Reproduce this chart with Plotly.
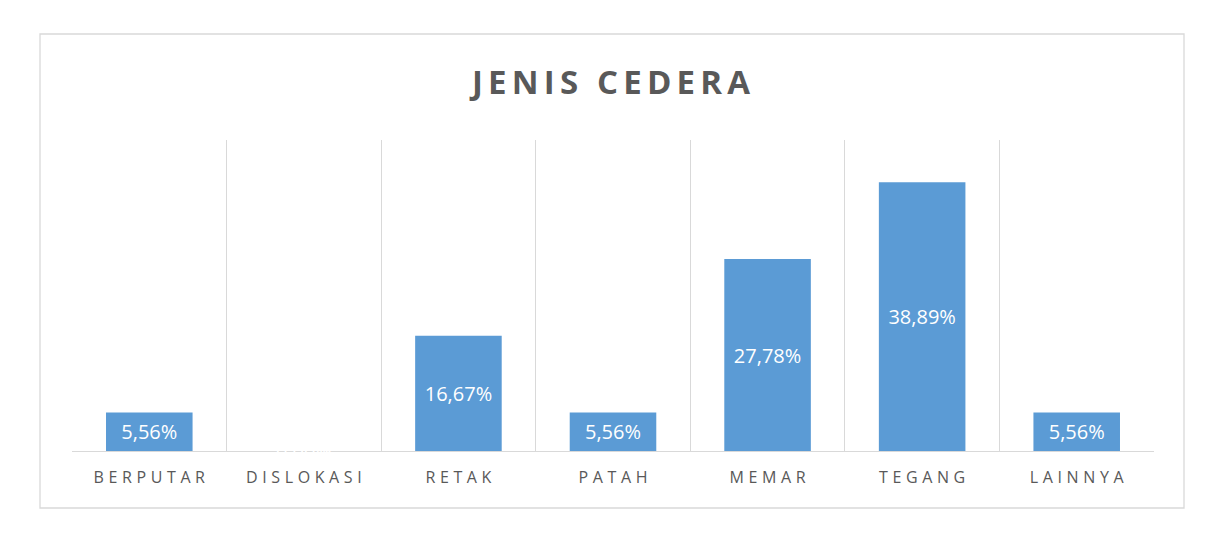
import plotly.graph_objects as go

categories = ["BERPUTAR", "DISLOKASI", "RETAK", "PATAH", "MEMAR", "TEGANG", "LAINNYA"]
values = [5.56, 0.00, 16.67, 5.56, 27.78, 38.89, 5.56]
labels = [f"{v:.2f}%".replace(".", ",") for v in values]
title_text = "JENIS CEDERA"

bar_color = "#5B9BD5"
grid_color = "#D9D9D9"
text_gray = "#595959"

fig = go.Figure()
fig.add_trace(go.Bar(
    x=categories, y=values,
    text=[l if v > 0 else "" for l, v in zip(labels, values)],
    textposition="inside", insidetextanchor="middle",
    textfont=dict(color="white", size=20, family="Open Sans"),
    marker=dict(color=bar_color, line=dict(width=0)),
    width=0.56, cliponaxis=False,
))
# zero-value label (white, practically invisible as in the reference)
for c, v, l in zip(categories, values, labels):
    if v == 0:
        fig.add_annotation(x=c, y=v, text=l, showarrow=False, yanchor="middle",
                           font=dict(color="white", size=20, family="Open Sans"))

fig.add_shape(type="rect", xref="paper", yref="paper",
              x0=(40 - 72) / 1082, x1=(1184 - 72) / 1082,
              y0=(451 - 508) / 311, y1=(451 - 34) / 311,
              line=dict(color=grid_color, width=1.3), layer="below")

fig.update_layout(
    width=1222, height=533,
    margin=dict(l=72, r=68, t=140, b=82),
    paper_bgcolor="white", plot_bgcolor="white",
    title=dict(text=title_text, x=0.5, xanchor="center",
               y=1 - 82 / 533, yanchor="middle",
               font=dict(size=33, color=text_gray, family="Open Sans", weight=700)),
    showlegend=False,
    xaxis=dict(type="category", tickson="boundaries", showgrid=True, gridcolor=grid_color,
               gridwidth=1.3, ticks="", showline=True, linecolor=grid_color, linewidth=1.3,
               range=[-0.5, len(categories) - 0.5],
               tickfont=dict(size=16, color=text_gray, family="Open Sans"), ticklabelstandoff=12),
    yaxis=dict(range=[0, 45], showgrid=False, showticklabels=False, zeroline=False, ticks=""),
)

post = """
var gd = document.getElementById('{plot_id}');
function spacing(){
  gd.querySelectorAll('.xtick text').forEach(function(t){
    t.style.letterSpacing = '4.6px'; t.setAttribute('dx', '2.3');
  });
  var tt = gd.querySelector('.gtitle');
  if (tt) { tt.style.letterSpacing = '5.2px'; tt.setAttribute('dx', '2.6'); }
}
spacing();
gd.on('plotly_afterplot', spacing);
"""
fig.write_html("out.html", post_script=post)
